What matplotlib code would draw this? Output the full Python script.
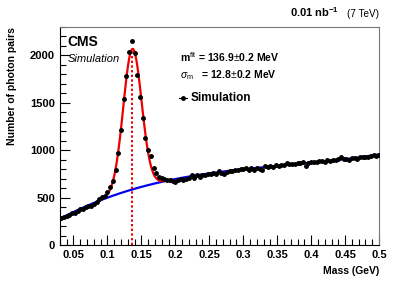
import numpy as np
import matplotlib
matplotlib.use("Agg")
import matplotlib.pyplot as plt
from matplotlib.ticker import MultipleLocator

plt.rcParams['font.family'] = ['Liberation Sans', 'DejaVu Sans']
plt.rcParams['mathtext.fontset'] = 'custom'
plt.rcParams['mathtext.rm'] = 'Liberation Sans'
plt.rcParams['mathtext.it'] = 'Liberation Sans:italic'
plt.rcParams['mathtext.bf'] = 'Liberation Sans:bold'

# diphoton mass bins (GeV), 4 MeV wide
mass = np.round(np.arange(0.032, 0.5001, 0.004), 3)

# photon pair counts
counts = [
    282, 300, 308, 322, 335, 342, 360, 382, 378, 400,
    410, 415, 435, 455, 485, 505, 522, 555, 612, 675,
    790, 970, 1210, 1540, 1780, 2040, 2155, 2030, 1790, 1560,
    1340, 1130, 1000, 940, 810, 755, 720, 705, 698, 690,
    688, 672, 665, 690, 692, 685, 700, 703, 735, 712,
    738, 722, 740, 735, 750, 745, 758, 752, 780, 765,
    748, 770, 785, 778, 795, 790, 798, 805, 815, 795,
    808, 792, 810, 806, 792, 830, 818, 835, 826, 840,
    835, 848, 845, 862, 850, 858, 855, 868, 864, 878,
    835, 866, 872, 880, 875, 890, 885, 878, 895, 888,
    902, 895, 910, 925, 905, 912, 898, 920, 915, 908,
    928, 925, 932, 928, 940, 945, 938, 950,
]
counts = np.array(counts, dtype=float)

m_fit = 0.1369     # GeV
sigma_fit = 0.0128

# fit: cubic background + gaussian, mean fixed, scan width
best = None
for s in np.linspace(0.010, 0.018, 81):
    g = np.exp(-0.5 * ((mass - m_fit) / s) ** 2)
    A = np.column_stack([np.ones_like(mass), mass, mass**2, mass**3, g])
    coef, res, _, _ = np.linalg.lstsq(A, counts, rcond=None)
    chi2 = np.sum((A @ coef - counts) ** 2)
    if best is None or chi2 < best[0]:
        best = (chi2, s, coef)
_, s_best, coef = best

xx = np.linspace(0.03, 0.5, 500)
bkg = coef[0] + coef[1]*xx + coef[2]*xx**2 + coef[3]*xx**3
sig = coef[4] * np.exp(-0.5 * ((xx - m_fit) / s_best) ** 2)

fig = plt.figure(figsize=(3.99, 2.86), dpi=100)
ax = fig.add_axes([0.150, 0.143, 0.800, 0.763])

ax.plot(xx, bkg, color='#0000ee', lw=1.6, zorder=2)
sel = (xx > 0.093) & (xx < 0.195)
ax.plot(xx[sel], (bkg + sig)[sel], color='#ee0000', lw=1.6, zorder=3)
peak = coef[0] + coef[1]*m_fit + coef[2]*m_fit**2 + coef[3]*m_fit**3 + coef[4]
ax.vlines(m_fit, 0, peak, color='#ee0000', lw=1.4, linestyles=(0, (1.2, 1.2)), zorder=2)
ax.plot(mass, counts, 'o', color='black', ms=2.5, zorder=4)

ax.set_xlim(0.03, 0.5)
ax.set_ylim(0, 2300)
ax.xaxis.set_major_locator(MultipleLocator(0.05))
ax.xaxis.set_minor_locator(MultipleLocator(0.01))
ax.yaxis.set_major_locator(MultipleLocator(500))
ax.yaxis.set_minor_locator(MultipleLocator(100))
ax.tick_params(which='both', direction='in', top=False, right=False, labelsize=8)
ax.tick_params(which='major', length=7, width=0.8)
ax.tick_params(which='minor', length=4, width=0.8)
ax.set_xticks(np.arange(0.05, 0.501, 0.05))
ax.set_xticklabels([f"{v:g}" for v in np.arange(0.05, 0.501, 0.05)])
for lab in ax.get_xticklabels() + ax.get_yticklabels():
    lab.set_fontweight('bold')
for side in ['top', 'right']:
    ax.spines[side].set_color('#777777')

ax.set_xlabel("Mass (GeV)", fontsize=7.5, fontweight='bold', loc='right')
ax.set_ylabel("Number of photon pairs", fontsize=7.5, fontweight='bold', loc='top')
ax.yaxis.set_label_coords(-0.135, 1.0)
ax.xaxis.set_label_coords(1.0, -0.095)

ax.text(0.025, 0.965, "CMS", transform=ax.transAxes, fontsize=10, fontweight='bold', va='top')
ax.text(0.025, 0.875, "Simulation", transform=ax.transAxes, fontsize=8, style='italic', va='top')

ax.text(0.375, 0.86, r"m$^{\rm fit}$ = 136.9$\pm$0.2 MeV", transform=ax.transAxes,
        fontsize=7.5, fontweight='bold', va='center')
ax.text(0.375, 0.78, r"$\sigma_{\rm m}$   = 12.8$\pm$0.2 MeV", transform=ax.transAxes,
        fontsize=7.5, fontweight='bold', va='center')
ax.plot([0.385], [0.675], 'o', color='black', ms=2.5, transform=ax.transAxes)
ax.plot([0.372, 0.398], [0.675, 0.675], color='black', lw=0.8, transform=ax.transAxes)
ax.text(0.41, 0.675, "Simulation", transform=ax.transAxes, fontsize=8.5,
        fontweight='bold', va='center')

fig.text(0.950, 0.935, "(7 TeV)", fontsize=7.2, ha='right', va='bottom')
fig.text(0.850, 0.935, r"0.01 nb$^{\mathbf{-1}}$", fontsize=8, fontweight='bold', ha='right', va='bottom')

fig.savefig("out.png", dpi=100)
